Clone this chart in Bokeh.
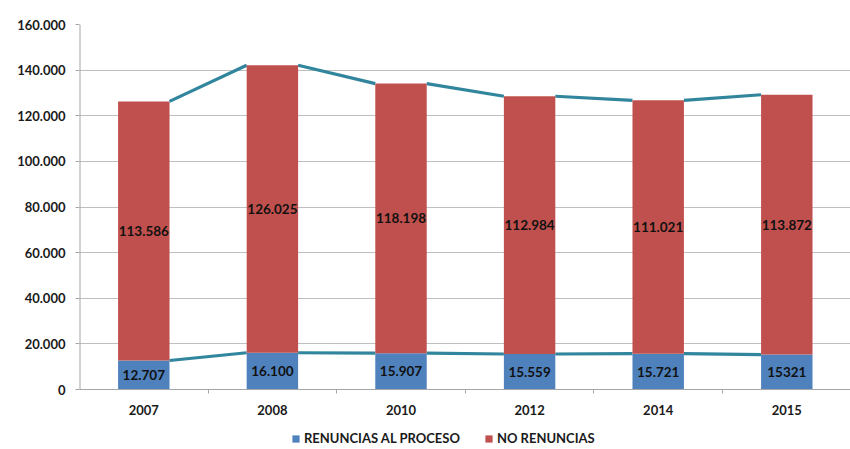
from bokeh.plotting import figure
from bokeh.models import FixedTicker, Legend, LegendItem, ColumnDataSource, LabelSet, Range1d
from bokeh.core.properties import value
from bokeh.embed import file_html
from bokeh.resources import INLINE
import numpy as np

years = ["2007", "2008", "2010", "2012", "2014", "2015"]
renuncias = [12707, 16100, 15907, 15559, 15721, 15321]
no_renuncias = [113586, 126025, 118198, 112984, 111021, 113872]
renuncias_labels = ["12.707", "16.100", "15.907", "15.559", "15.721", "15321"]
no_renuncias_labels = ["113.586", "126.025", "118.198", "112.984", "111.021", "113.872"]
y_ticks = [0, 20000, 40000, 60000, 80000, 100000, 120000, 140000, 160000]
y_tick_labels = ["0", "20.000", "40.000", "60.000", "80.000", "100.000", "120.000", "140.000", "160.000"]

FONT = "Lato"
BLUE = "#4f81bd"
RED = "#c0504d"
TEAL = "#31859c"
AXIS = "#a6a6a6"
BAR_W = 0.4

x = np.arange(len(years), dtype=float)
ren = np.array(renuncias, dtype=float)
nor = np.array(no_renuncias, dtype=float)
tot = ren + nor

src = ColumnDataSource(dict(
    x=x, ren=ren, tot=tot,
    ren_mid=ren / 2, nor_mid=ren + nor / 2,
    ren_lab=renuncias_labels, nor_lab=no_renuncias_labels,
))

W, H = 850, 449
LEFT, TOP, ZERO_Y = 79, 24, 389
frame_w = W - LEFT
cat_px = 128.6
ymax = y_ticks[-1]
px_per_unit = (ZERO_Y - TOP) / ymax
ymin = -(H - ZERO_Y) / px_per_unit

p = figure(width=W, height=H, output_backend="svg", toolbar_location=None,
           x_range=Range1d(-0.5, -0.5 + frame_w / cat_px), y_range=Range1d(ymin, ymax),
           min_border_left=LEFT, min_border_right=0, min_border_top=TOP, min_border_bottom=0)
p.outline_line_color = None
p.background_fill_color = "white"
p.border_fill_color = "white"

# series lines (between bars)
seg = ColumnDataSource(dict(
    x0=x[:-1] + BAR_W / 2, x1=x[1:] - BAR_W / 2,
    t0=tot[:-1], t1=tot[1:], r0=ren[:-1], r1=ren[1:],
))
p.segment(x0="x0", y0="t0", x1="x1", y1="t1", source=seg, line_color=TEAL, line_width=3.2)
p.segment(x0="x0", y0="r0", x1="x1", y1="r1", source=seg, line_color=TEAL, line_width=3.2)

r_blue = p.vbar(x="x", bottom=0, top="ren", width=BAR_W, source=src, fill_color=BLUE, line_color=None)
r_red = p.vbar(x="x", bottom="ren", top="tot", width=BAR_W, source=src, fill_color=RED, line_color=None)

for ycol, tcol in (("ren_mid", "ren_lab"), ("nor_mid", "nor_lab")):
    p.add_layout(LabelSet(x="x", y=ycol, text=tcol, source=src, text_align="center",
                          text_baseline="middle", text_font=value(FONT), text_font_style="bold",
                          text_font_size="13.5px", text_color="#111111"))

# y axis line (only over the value range)
p.segment(x0=[-0.5], y0=[0], x1=[-0.5], y1=[ymax], line_color=AXIS, line_width=2)

# x axis at value 0
p.xaxis.fixed_location = 0
p.xaxis.ticker = FixedTicker(ticks=list(x), minor_ticks=list(x[:-1] + 0.5))
p.xaxis.major_label_overrides = {i: y for i, y in enumerate(years)}
p.xaxis.major_tick_out = 0
p.xaxis.major_tick_in = 0
p.xaxis.minor_tick_out = 4
p.xaxis.minor_tick_in = 0
p.xaxis.minor_tick_line_color = AXIS
p.xaxis.axis_line_color = AXIS
p.xaxis.major_label_standoff = 11
p.xaxis.major_label_text_font = FONT
p.xaxis.major_label_text_font_style = "bold"
p.xaxis.major_label_text_font_size = "13px"
p.xaxis.major_label_text_color = "#1a1a1a"

p.yaxis.ticker = FixedTicker(ticks=y_ticks)
p.yaxis.major_label_overrides = {t: l for t, l in zip(y_ticks, y_tick_labels)}
p.yaxis.major_tick_out = 4
p.yaxis.major_tick_in = 0
p.yaxis.minor_tick_line_color = None
p.yaxis.major_tick_line_color = AXIS
p.yaxis.axis_line_color = None
p.yaxis.major_label_standoff = 10
p.yaxis.major_label_text_font = FONT
p.yaxis.major_label_text_font_style = "bold"
p.yaxis.major_label_text_font_size = "13px"
p.yaxis.major_label_text_color = "#1a1a1a"

p.xgrid.grid_line_color = None
p.ygrid.ticker = FixedTicker(ticks=y_ticks)
p.ygrid.grid_line_color = "#bfbfbf"

legend = Legend(items=[LegendItem(label="RENUNCIAS AL PROCESO", renderers=[r_blue]),
                       LegendItem(label="NO RENUNCIAS", renderers=[r_red])],
                orientation="horizontal", location=(212, 3),
                glyph_width=9, glyph_height=9, label_standoff=4, spacing=24,
                padding=0, margin=0, label_height=16,
                label_text_font=FONT, label_text_font_style="bold", label_text_font_size="13px",
                label_text_color="#1a1a1a",
                border_line_color=None, background_fill_alpha=0)
p.add_layout(legend, "center")

open("out.html", "w").write(file_html(p, INLINE))
